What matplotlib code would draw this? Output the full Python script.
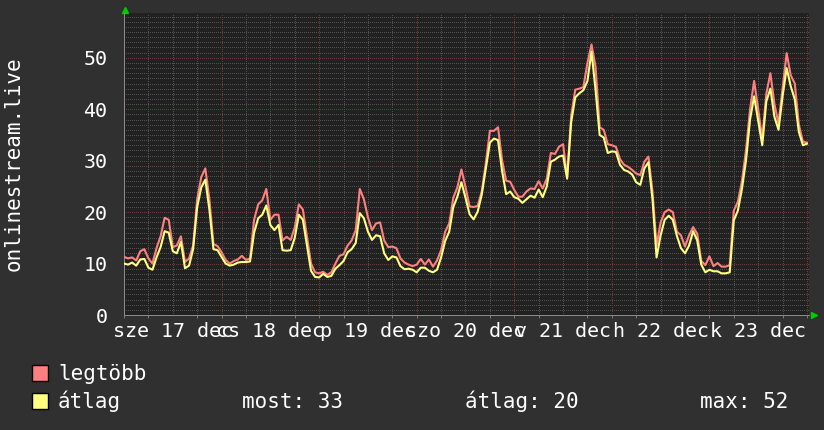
import matplotlib
matplotlib.use("Agg")
import matplotlib.pyplot as plt
from matplotlib.patches import Rectangle
from matplotlib.transforms import offset_copy

# hourly samples, 17 dec 00:00 .. 24 dec 00:00
HOURS = list(range(0, 169))
MAX_USERS = [
    11.3, 11.0, 11.2, 10.6, 12.4, 12.8, 11.0, 10.0, 13.0, 15.3, 18.9, 18.5,
    13.2, 13.5, 15.3, 10.3, 11.0, 13.5, 22.5, 26.8, 28.5, 22.5, 13.8, 13.4,
    12.2, 10.7, 10.0, 10.5, 10.8, 11.5, 10.7, 11.0, 18.5, 21.5, 22.3, 24.5,
    18.5, 19.5, 19.5, 14.5, 15.2, 14.6, 17.0, 21.5, 20.5, 15.2, 10.0, 8.3,
    8.1, 8.4, 7.8, 8.3, 10.0, 11.5, 11.8, 13.5, 14.5, 16.5, 24.5, 22.5,
    19.0, 16.5, 17.8, 18.0, 14.5, 13.2, 13.3, 13.0, 11.0, 10.2, 9.8, 9.5,
    9.8, 10.9, 9.8, 10.8, 9.4, 10.6, 12.6, 16.2, 17.8, 22.8, 24.8, 28.3,
    24.9, 21.1, 21.0, 21.2, 24.0, 29.5, 35.8, 35.8, 36.5, 30.1, 26.1, 25.9,
    24.3, 23.0, 23.0, 24.0, 24.6, 24.5, 26.0, 24.6, 26.5, 31.5, 31.3, 32.7,
    33.2, 26.9, 38.7, 43.8, 44.0, 44.3, 49.0, 52.6, 48.2, 36.5, 36.0, 33.2,
    33.0, 32.7, 30.3, 29.2, 28.8, 28.2, 27.5, 27.2, 29.8, 30.8, 24.0, 13.5,
    18.0, 20.0, 20.5, 20.0, 16.2, 15.5, 13.3, 15.5, 17.1, 15.8, 10.5, 9.7,
    11.4, 9.5, 10.1, 9.4, 9.4, 9.7, 20.3, 22.0, 26.0, 32.0, 40.0, 45.5,
    40.0, 34.3, 43.0, 47.0, 41.0, 37.2, 44.0, 50.9, 46.6, 45.0, 37.0, 33.7,
    33.5,
]
AVG_USERS = [
    10.0, 9.8, 10.2, 9.6, 10.8, 10.9, 9.2, 8.8, 11.2, 13.2, 16.3, 16.0,
    12.4, 12.0, 14.2, 9.1, 9.6, 12.8, 21.0, 24.8, 26.3, 20.5, 12.8, 12.6,
    11.3, 10.0, 9.6, 9.8, 10.2, 10.3, 10.3, 10.4, 16.0, 18.8, 19.5, 21.3,
    17.5, 16.5, 17.5, 12.6, 12.5, 12.6, 15.0, 19.5, 18.5, 13.5, 8.6, 7.4,
    7.3, 8.0, 7.4, 7.6, 9.0, 9.7, 10.5, 12.2, 12.8, 14.0, 19.8, 18.8,
    16.2, 14.6, 15.5, 15.3, 12.0, 10.7, 11.4, 11.2, 9.5, 8.9, 9.0, 8.8,
    8.3, 9.2, 9.2, 8.6, 8.3, 8.8, 11.2, 14.4, 16.2, 21.0, 23.0, 25.8,
    22.8, 19.6, 18.6, 20.1, 23.4, 28.5, 33.5, 34.3, 34.0, 28.0, 23.5, 24.0,
    22.9, 22.6, 21.8, 22.5, 23.2, 22.8, 24.4, 22.9, 25.0, 29.8, 30.2, 30.8,
    31.0, 26.5, 37.5, 42.3, 43.1, 43.7, 45.5, 51.2, 43.7, 35.0, 34.5, 31.5,
    31.8, 31.7, 29.2, 28.2, 27.9, 27.3, 25.8, 25.3, 28.5, 29.7, 22.5, 11.2,
    15.5, 18.5, 19.3, 18.5, 15.4, 13.0, 12.0, 13.5, 16.3, 14.5, 9.8, 8.3,
    8.8, 8.5, 8.5, 8.1, 8.1, 8.3, 18.4, 20.3, 24.5, 30.0, 38.0, 42.5,
    37.8, 33.0, 41.5, 44.0, 38.5, 36.0, 42.5, 48.0, 44.5, 41.9, 35.6, 33.0,
    33.3,
]
DAY_LABELS = ["sze 17 dec", "cs 18 dec", "p 19 dec", "szo 20 dec",
              "v 21 dec", "h 22 dec", "k 23 dec"]
Y_TICKS = [0, 10, 20, 30, 40, 50]
SERIES_NAMES = ["legtöbb", "átlag"]
STATS = ["most: 33", "átlag: 20", "max: 52"]

BG = "#303030"
PLOT_BG = "#212121"
FG = "#ffffff"
RED = "#ff8080"
YELLOW = "#ffff80"
MONO = "DejaVu Sans Mono"

fig = plt.figure(figsize=(8.24, 4.30), dpi=100, facecolor=BG)
ax = fig.add_axes([0.1505, 0.2674, 0.8313, 0.7023], facecolor=PLOT_BG)
ax.set_xlim(0, 168.5)
ax.set_ylim(0, 58.7)

# rrdtool style dotted grid
dot = (0, (1, 2))
for v in range(1, 59):
    c = "#7a3434" if v % 10 == 0 else "#505050"
    ax.axhline(v, color=c, lw=0.72, ls=dot, zorder=1, antialiased=False)
for h in range(6, 169, 6):
    c = "#7a3434" if h % 24 == 0 else "#505050"
    ax.axvline(h, color=c, lw=0.72, ls=dot, zorder=1, antialiased=False)

ax.plot(HOURS, MAX_USERS, color=RED, lw=1.5, zorder=3)
ax.plot(HOURS, AVG_USERS, color=YELLOW, lw=1.5, zorder=4)

ax.set_yticks(Y_TICKS, [str(t) for t in Y_TICKS])
ax.set_xticks([12 + 24 * i for i in range(len(DAY_LABELS))], DAY_LABELS)
ax.set_xticks(range(0, 169, 6), minor=True)
ax.tick_params(axis="y", length=0, pad=12, labelsize=14.4, labelcolor=FG)
ax.tick_params(axis="x", which="major", length=0, pad=5, labelsize=14.4, labelcolor=FG)
ax.tick_params(axis="x", which="minor", length=2, width=0.72, color="#777777")
for lab in ax.get_xticklabels() + ax.get_yticklabels():
    lab.set_family(MONO)

for side in ["top", "right"]:
    ax.spines[side].set_visible(False)
for side in ["left", "bottom"]:
    ax.spines[side].set_color("#8a8a8a")
    ax.spines[side].set_linewidth(0.72)

# green axis arrows
ax.plot([0], [1], marker="^", ms=5, color="#00cc00", clip_on=False,
        transform=offset_copy(ax.transAxes, fig=fig, x=1, y=3, units="dots"))
ax.plot([1], [0], marker=">", ms=5, color="#00cc00", clip_on=False,
        transform=offset_copy(ax.transAxes, fig=fig, x=5, y=0, units="dots"))

fig.text(0.017, 0.6186, "onlinestream.live", rotation=90, ha="center", va="center",
         color=FG, fontsize=15, family=MONO)

# legend
for (name, color, y_box, y_txt) in [(SERIES_NAMES[0], RED, 0.1140, 0.1163),
                                    (SERIES_NAMES[1], YELLOW, 0.0488, 0.0512)]:
    fig.patches.append(Rectangle((0.0388, y_box), 0.0194, 0.0372, transform=fig.transFigure,
                                 facecolor=color, edgecolor="black", lw=1))
    fig.text(0.0704, y_txt, name, color=FG, fontsize=15, family=MONO, va="baseline")

for txt, x in zip(STATS, [0.2937, 0.5643, 0.8495]):
    fig.text(x, 0.0512, txt, color=FG, fontsize=15, family=MONO, va="baseline")

fig.savefig("out.png", dpi=100, facecolor=BG)
